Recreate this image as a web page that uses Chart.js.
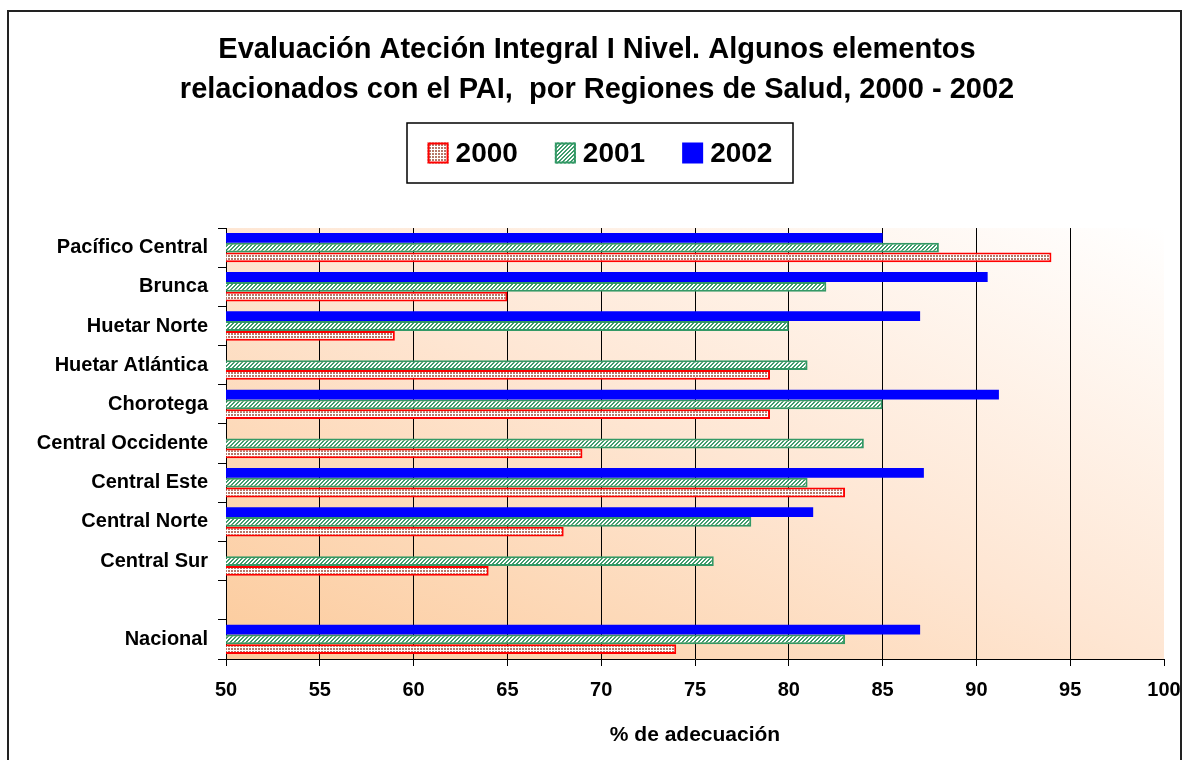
<!DOCTYPE html>
<html>
<head>
<meta charset="utf-8">
<title>Evaluación Ateción Integral I Nivel</title>
<script src="https://cdn.jsdelivr.net/npm/chart.js@4/dist/chart.umd.min.js"></script>
<style>
    html, body { margin: 0; padding: 0; background: #fff; }
    #wrap { width: 1189px; height: 760px; position: relative; }
</style>
</head>
<body>
<div id="wrap"><canvas id="adecuacionChart"></canvas></div>
<script>
const categories = ['Pacífico Central', 'Brunca', 'Huetar Norte', 'Huetar Atlántica', 'Chorotega',
    'Central Occidente', 'Central Este', 'Central Norte', 'Central Sur', '', 'Nacional'];
const values2000 = [94, 65, 59, 79, 79, 69, 83, 68, 64, null, 74];
const values2001 = [88, 82, 80, 81, 85, 84, 81, 78, 76, null, 83];
const values2002 = [85, 90.6, 87, null, 91.2, null, 87.2, 81.3, null, null, 87];
const xMin = 50;
const xMax = 100;
const xStep = 5;
const titleLines = ['Evaluación Ateción Integral I Nivel. Algunos elementos',
    'relacionados con el PAI,  por Regiones de Salud, 2000 - 2002'];
const axisTitle = '% de adecuación';

const FONT = "'Liberation Sans', Arial, sans-serif";
Chart.defaults.font.family = FONT;
Chart.defaults.color = '#000';

// small fill patterns like the old spreadsheet ones
function makePattern(size, draw) {
    const c = document.createElement('canvas');
    c.width = size;
    c.height = size;
    const p = c.getContext('2d');
    draw(p);
    return p.createPattern(c, 'repeat');
}

const ctx = document.getElementById('adecuacionChart').getContext('2d');

const dots2000 = makePattern(3, function(p) {
    p.fillStyle = '#ffffff';
    p.fillRect(0, 0, 3, 3);
    p.fillStyle = '#b5786a';
    p.fillRect(0, 0, 2, 2);
});

const hatch2001 = makePattern(4, function(p) {
    p.fillStyle = '#ffffff';
    p.fillRect(0, 0, 4, 4);
    p.fillStyle = '#3f9c6c';
    for (let i = 0; i < 4; i++) {
        p.fillRect(i, 3 - i, 1, 1);
        p.fillRect(i, (4 - i) % 4, 1, 1);
    }
});

// peach gradient behind the plot, running bottom-left to top-right
const plotBackground = {
    id: 'plotBackground',
    beforeDraw(chart) {
        const a = chart.chartArea;
        const c = chart.ctx;
        const w = a.right - a.left;
        const h = a.bottom - a.top;
        const n2 = w * w + h * h;
        const g = c.createLinearGradient(a.left, a.bottom,
            a.left + h * 2 * w * h / n2, a.bottom - w * 2 * w * h / n2);
        g.addColorStop(0, '#fccb9c');
        g.addColorStop(0.5, '#fee6d3');
        g.addColorStop(1, '#ffffff');
        c.save();
        c.fillStyle = '#ffffff';
        c.fillRect(0, 0, chart.width, chart.height);
        c.fillStyle = g;
        c.fillRect(a.left, a.top, w, h);
        c.restore();
    }
};

// outer frame and the boxed legend (years shown in ascending order)
const frameAndLegend = {
    id: 'frameAndLegend',
    afterDraw(chart) {
        const c = chart.ctx;
        c.save();
        c.strokeStyle = '#222';
        c.lineWidth = 2;
        c.strokeRect(8, 11, 1173, 780);

        const box = { x: 407, y: 123, w: 386, h: 60 };
        c.strokeStyle = '#000';
        c.lineWidth = 1.5;
        c.strokeRect(box.x, box.y, box.w, box.h);

        const sets = chart.data.datasets.slice().reverse();
        c.font = 'bold 28px ' + FONT;
        c.textBaseline = 'middle';
        const sw = 21, gap = 7, spacing = 37;
        const widths = sets.map(d => sw + gap + c.measureText(d.label).width);
        const total = widths.reduce((s, v) => s + v, 0) + spacing * (sets.length - 1);
        let x = box.x + (box.w - total) / 2;
        const cy = box.y + box.h / 2;
        sets.forEach(function(d, i) {
            c.fillStyle = d.backgroundColor;
            c.fillRect(x, cy - sw / 2, sw, sw);
            if (d.borderWidth) {
                c.strokeStyle = d.borderColor;
                c.lineWidth = 2;
                c.strokeRect(x + 1, cy - sw / 2 + 1, sw - 2, sw - 2);
            }
            c.fillStyle = '#000';
            c.fillText(d.label, x + sw + gap, cy + 1);
            x += widths[i] + spacing;
        });
        c.restore();
    }
};

new Chart(ctx, {
    type: 'bar',
    data: {
        labels: categories,
        datasets: [{
            label: '2002',
            data: values2002,
            backgroundColor: '#0000ff',
            borderWidth: 0
        }, {
            label: '2001',
            data: values2001,
            backgroundColor: hatch2001,
            borderColor: '#339966',
            borderWidth: 2,
            borderSkipped: false
        }, {
            label: '2000',
            data: values2000,
            backgroundColor: dots2000,
            borderColor: '#ff0000',
            borderWidth: 2,
            borderSkipped: false
        }]
    },
    options: {
        indexAxis: 'y',
        responsive: true,
        maintainAspectRatio: false,
        animation: false,
        datasets: {
            bar: {
                categoryPercentage: 0.75,
                barPercentage: 1.0
            }
        },
        layout: {
            padding: { left: 30, right: 25, top: 0, bottom: 0 }
        },
        plugins: {
            legend: { display: false },
            tooltip: { enabled: false },
            title: {
                display: true,
                text: titleLines,
                color: '#000',
                font: { size: 29, weight: 'bold', lineHeight: 1.38 },
                padding: { top: 30, bottom: 118 }
            }
        },
        scales: {
            x: {
                min: xMin,
                max: xMax,
                afterFit: function(scale) {
                    scale.height = 101;
                    scale.paddingLeft = 0;
                    scale.paddingRight = 0;
                },
                border: { display: true, color: '#000', width: 1 },
                grid: {
                    color: function(c) {
                        return (c.tick && (c.tick.value === xMax || c.tick.value === xMin)) ? 'rgba(0,0,0,0)' : '#000';
                    },
                    tickColor: '#000',
                    tickLength: 7,
                    lineWidth: 1
                },
                ticks: {
                    stepSize: xStep,
                    maxRotation: 0,
                    padding: 12,
                    color: '#000',
                    font: { size: 20, weight: 'bold' }
                },
                title: {
                    display: true,
                    text: axisTitle,
                    color: '#000',
                    font: { size: 21, weight: 'bold' },
                    padding: { top: 0, bottom: 12 }
                }
            },
            y: {
                afterFit: function(scale) { scale.width = 196; },
                border: { display: true, color: '#000', width: 1 },
                grid: {
                    drawOnChartArea: false,
                    tickLength: 8,
                    color: '#000'
                },
                ticks: {
                    padding: 10,
                    color: '#000',
                    font: { size: 20, weight: 'bold' }
                }
            }
        }
    },
    plugins: [plotBackground, frameAndLegend]
});
</script>
</body>
</html>
